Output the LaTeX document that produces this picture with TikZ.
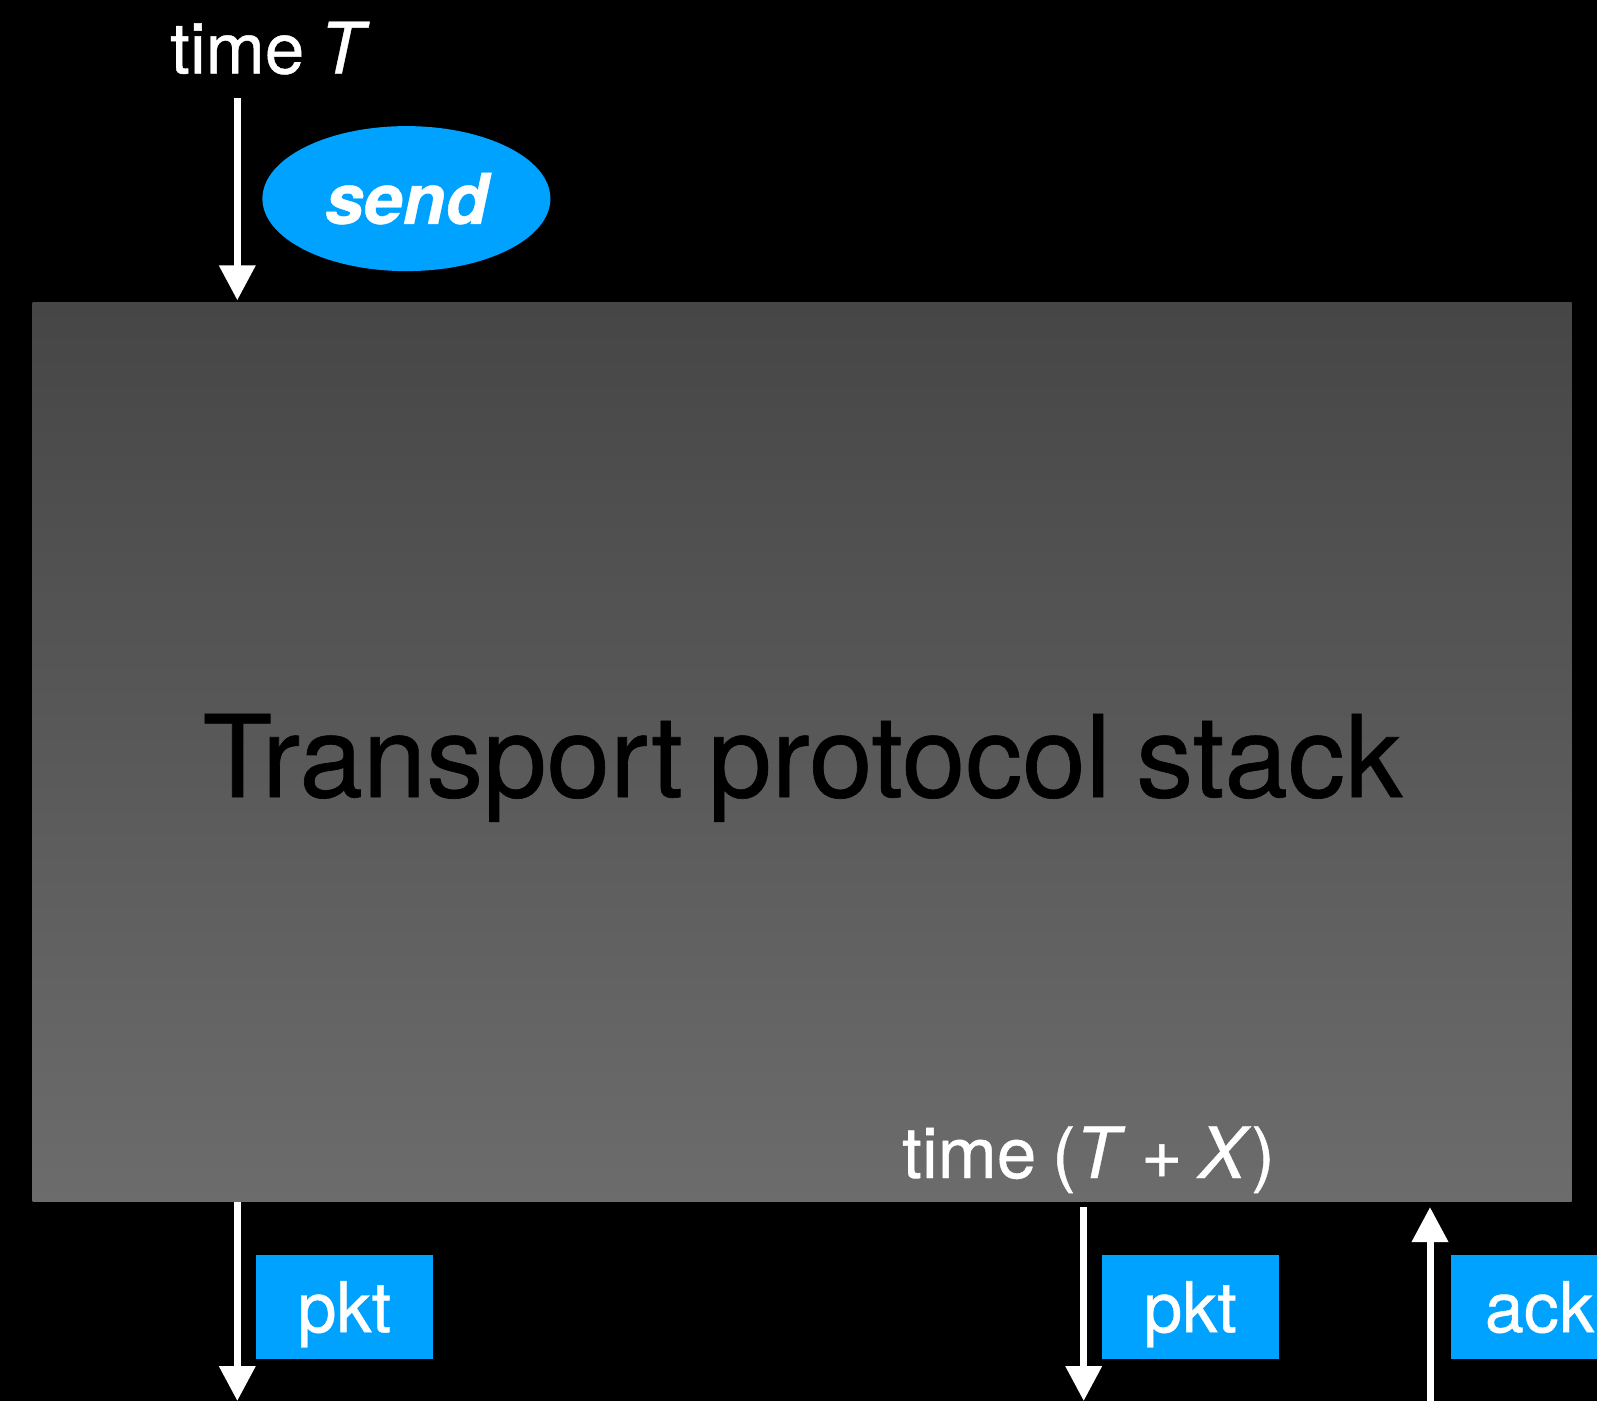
\documentclass[tikz,border=0pt]{standalone}
\usepackage{fontspec}
\setmainfont{TeX Gyre Heros}[FakeBold=0.6, WordSpace=0.8]
\usetikzlibrary{arrows.meta,shapes.geometric}
\definecolor{skyblue}{HTML}{00A2FF}
\definecolor{stacktop}{HTML}{464646}
\definecolor{stackbot}{HTML}{6C6C6C}

\begin{document}
\begin{tikzpicture}[x=1pt,y=-1pt,
  flow/.style={draw=white, line width=7pt, -{Triangle[width=35pt,length=35pt]}},
  tag/.style={fill=skyblue, text=white, minimum width=177pt, minimum height=104pt,
    inner sep=0pt, text height=60pt, text depth=9pt, font=\fontsize{70}{72}\selectfont},
  whitetext/.style={text=white, inner sep=0pt, font=\fontsize{71}{74}\selectfont}]

  % canvas
  \clip (0,0) rectangle (1597,1401);
  \fill[black] (0,0) rectangle (1597,1401);

  % protocol stack block
  \node[rectangle, inner sep=0pt, minimum width=1539pt, minimum height=899.3pt,
        top color=stacktop, bottom color=stackbot] (stack) at (802.1,752.2) {};
  \node[anchor=base, inner sep=0pt, text=black, font=\fontsize{114}{118}\selectfont]
        (stacklbl) at (802.5,797) {Transport protocol stack};

  % input side
  \node[whitetext, anchor=base west] (timeT) at (170,73.5) {time \textit{T}};
  \node[ellipse, fill=skyblue, text=white, minimum width=288pt, minimum height=145pt,
        inner sep=0pt, font=\fontsize{70}{72}\selectfont\bfseries\itshape]
        (send) at (406.4,198.6) {send};
  \coordinate (srcT) at (237.3,98);
  \draw[flow] (srcT) -- ([yshift=2pt]srcT |- stack.north);

  % output side
  \node[whitetext, anchor=base west] (timeTX) at (902,1178) {time (\textit{T} + \textit{X})};
  \node[tag] (pktA) at (344.3,1306.7) {pkt};
  \node[tag] (pktB) at (1190.1,1306.7) {pkt};
  \node[tag] (ack) at (1539.5,1306.7) {ack};

  \coordinate (outA) at (237.3,1401);
  \coordinate (outB) at (1083.7,1401);
  \coordinate (inC) at (1430,1401);
  \draw[flow] (outA |- stack.south) -- (outA);
  \draw[flow] ([yshift=-5pt]outB |- stack.south) -- (outB);
  \draw[flow] (inC) -- ([yshift=-5pt]inC |- stack.south);
\end{tikzpicture}
\end{document}
